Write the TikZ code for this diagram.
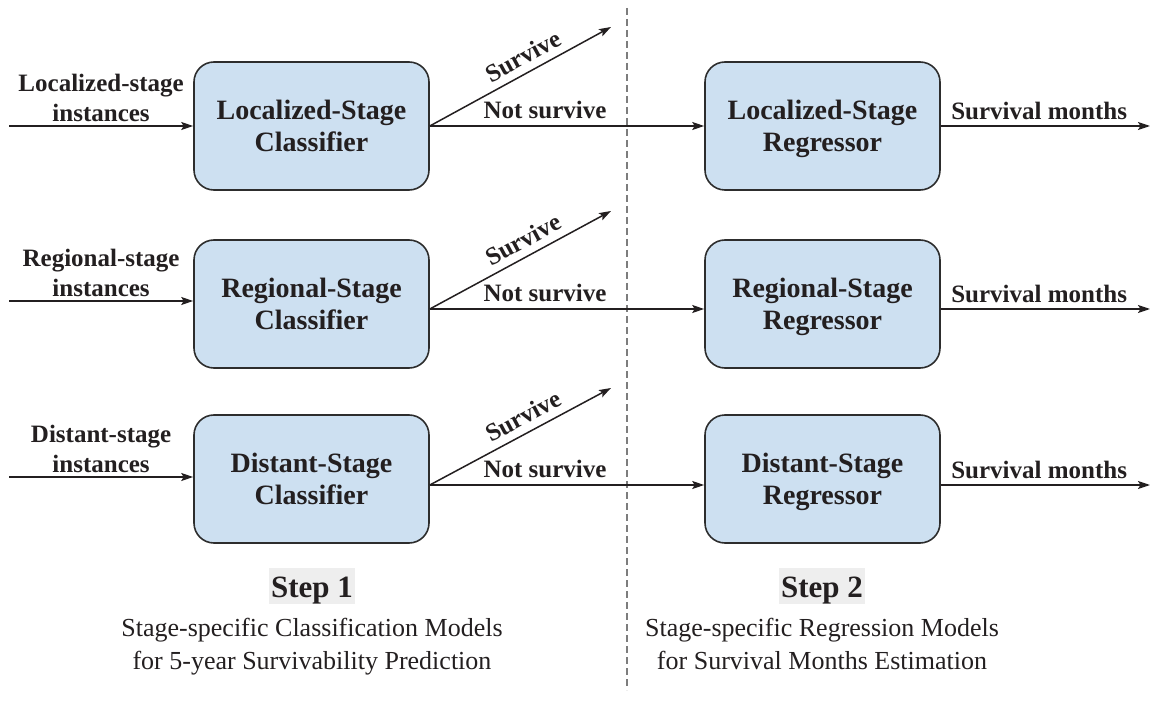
\documentclass[tikz,border=0pt]{standalone}
\usepackage{fontspec}
\setmainfont{Liberation Serif}
\usetikzlibrary{arrows.meta}
\definecolor{boxfill}{RGB}{205,224,241}
\definecolor{boxline}{RGB}{45,45,45}
\definecolor{ink}{RGB}{35,31,32}
\definecolor{divider}{RGB}{125,125,125}
\definecolor{stepbg}{RGB}{238,238,238}

\begin{document}
\begin{tikzpicture}[x=1pt,y=-1pt,
  model/.style={draw=boxline, line width=1.6pt, fill=boxfill, rounded corners=20pt,
    minimum width=235pt, minimum height=128pt, inner sep=0, align=center,
    text depth=0pt, text=ink, font=\fontsize{28}{32}\selectfont\bfseries},
  flow/.style={draw=ink, line width=1.5pt, -{Stealth[length=12pt,width=8pt,inset=2.5pt]}},
  lbl/.style={inner sep=0, align=center, text=ink, font=\fontsize{25}{30}\selectfont\bfseries},
  stepbox/.style={fill=stepbg, inner xsep=2pt, inner ysep=0pt, text height=29pt, text depth=7pt,
    text=ink, font=\fontsize{31}{31}\selectfont\bfseries},
  caption/.style={inner sep=0, align=center, text=ink, font=\fontsize{26}{33}\selectfont}
]
\useasboundingbox (0,0) rectangle (1152,714);

% divider between the two steps
\draw[divider, line width=1.5pt, dash pattern=on 7pt off 4pt] (627,8) -- (627,690);

% step 1: classifiers
\node[model] (c1) at (311.5,126) {Localized-Stage\\Classifier};
\node[model] (c2) at (311.5,304) {Regional-Stage\\Classifier};
\node[model] (c3) at (311.5,479) {Distant-Stage\\Classifier};

% step 2: regressors
\node[model] (r1) at (822.5,126) {Localized-Stage\\Regressor};
\node[model] (r2) at (822.5,304) {Regional-Stage\\Regressor};
\node[model] (r3) at (822.5,479) {Distant-Stage\\Regressor};

% free ends of the arrows
\coordinate (s1) at (9,126);
\coordinate (s2) at (9,301);
\coordinate (s3) at (9,477);
\coordinate (t1) at (611,27);
\coordinate (t2) at (611,211);
\coordinate (t3) at (611,388);
\coordinate (e1) at (1150,126);
\coordinate (e2) at (1150,309);
\coordinate (e3) at (1150,485);

% inputs
\draw[flow] (s1) -- (c1.west |- s1) node[midway, above=4pt, lbl] {Localized-stage\\instances};
\draw[flow] (s2) -- (c2.west |- s2) node[midway, above=4pt, lbl] {Regional-stage\\instances};
\draw[flow] (s3) -- (c3.west |- s3) node[midway, above=4pt, lbl] {Distant-stage\\instances};

% classifier outcomes
\draw[flow] (c1.east |- e1) -- (t1) node[pos=0.56, sloped, above=7pt, lbl] {Survive};
\draw[flow] (c2.east |- e2) -- (t2) node[pos=0.56, sloped, above=7pt, lbl] {Survive};
\draw[flow] (c3.east |- e3) -- (t3) node[pos=0.56, sloped, above=7pt, lbl] {Survive};

\draw[flow] (c1.east |- e1) -- (r1.west |- e1) node[pos=0.42, above=6pt, lbl] {Not survive};
\draw[flow] (c2.east |- e2) -- (r2.west |- e2) node[pos=0.42, above=6pt, lbl] {Not survive};
\draw[flow] (c3.east |- e3) -- (r3.west |- e3) node[pos=0.42, above=6pt, lbl] {Not survive};

% regressor outputs
\draw[flow] (r1.east |- e1) -- (e1) node[pos=0.47, above=5pt, lbl] {Survival months};
\draw[flow] (r2.east |- e2) -- (e2) node[pos=0.47, above=5pt, lbl] {Survival months};
\draw[flow] (r3.east |- e3) -- (e3) node[pos=0.47, above=5pt, lbl] {Survival months};

% step captions
\node[stepbox, anchor=base] (step1) at (312,597) {Step 1};
\node[stepbox, anchor=base] (step2) at (822,597) {Step 2};
\node[caption, anchor=north] (cap1) at (312,618) {Stage-specific Classification Models\\for 5-year Survivability Prediction};
\node[caption, anchor=north] (cap2) at (822,618) {Stage-specific Regression Models\\for Survival Months Estimation};
\end{tikzpicture}
\end{document}
